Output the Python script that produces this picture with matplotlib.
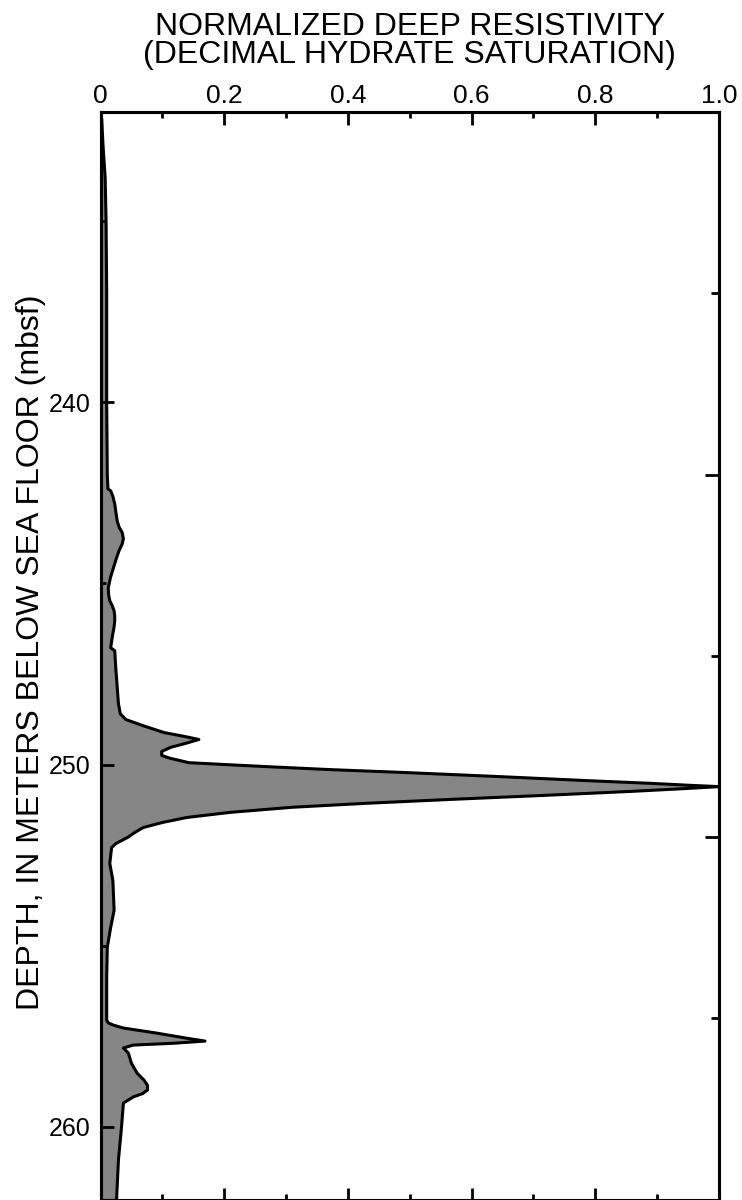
import matplotlib
matplotlib.use('Agg')
import matplotlib.pyplot as plt
from matplotlib.ticker import FixedLocator, FuncFormatter

plt.rcParams['font.family'] = ['Liberation Sans', 'DejaVu Sans']

depth = [232.0, 232.2, 232.9, 233.8, 235.0, 237.0, 240.0, 242.0, 242.40, 242.45,
         242.60, 242.81, 243.05, 243.28, 243.45, 243.60, 243.77, 243.92, 244.10, 244.35,
         244.57, 244.85, 245.12, 245.30, 245.48, 245.62, 245.76, 245.90, 246.03, 246.20,
         246.39, 246.60, 246.78, 246.86, 247.41, 248.32, 248.60, 248.76, 248.93, 249.12,
         249.23, 249.31, 249.42, 249.53, 249.64, 249.75, 249.83, 249.95, 250.00, 250.06,
         250.14, 250.22, 250.33, 250.44, 250.52, 250.58, 250.61, 250.66, 250.74, 250.85,
         250.96, 251.07, 251.18, 251.32, 251.46, 251.60, 251.74, 251.87, 252.01, 252.18,
         252.29, 252.73, 253.20, 254.02, 254.49, 255.04, 255.87, 256.78, 257.05, 257.13,
         257.19, 257.27, 257.41, 257.55, 257.63, 257.69, 257.74, 257.82, 257.96, 258.24,
         258.51, 258.70, 258.85, 258.98, 259.08, 259.17, 259.34, 260.00, 260.91, 262.00]
resistivity = [0.000, 0.002, 0.004, 0.0075, 0.009, 0.010, 0.010, 0.011, 0.012, 0.0165,
               0.020, 0.023, 0.025, 0.027, 0.030, 0.035, 0.037, 0.035, 0.030, 0.025,
               0.021, 0.016, 0.0126, 0.013, 0.015, 0.019, 0.022, 0.023, 0.023, 0.022,
               0.020, 0.018, 0.0165, 0.023, 0.025, 0.029, 0.032, 0.041, 0.069, 0.103,
               0.137, 0.159, 0.137, 0.113, 0.099, 0.099, 0.113, 0.143, 0.200, 0.270,
               0.370, 0.490, 0.640, 0.780, 0.890, 0.960, 1.000, 0.950, 0.860, 0.720,
               0.570, 0.430, 0.310, 0.210, 0.140, 0.100, 0.069, 0.056, 0.044, 0.025,
               0.018, 0.015, 0.020, 0.022, 0.0165, 0.011, 0.010, 0.010, 0.010, 0.0126,
               0.021, 0.037, 0.091, 0.139, 0.169, 0.118, 0.053, 0.037, 0.045, 0.050,
               0.059, 0.070, 0.076, 0.076, 0.068, 0.053, 0.037, 0.034, 0.029, 0.026]

x_major = [0, 0.2, 0.4, 0.6, 0.8, 1.0]
x_minor = [0.1, 0.3, 0.5, 0.7, 0.9]
left_major = [240, 250, 260]
left_minor = [235, 245, 255]
right_major = [242, 252]
right_minor = [237, 247, 257]

W, H = 742, 1200
fig = plt.figure(figsize=(W / 100, H / 100), dpi=100)
ax = fig.add_axes([100.5 / W, 0.5 / H, (719 - 100.5) / W, (1199.5 - 112) / H])

ax.fill_betweenx(depth, 0, resistivity, facecolor='#868686', edgecolor='none')
ax.plot(resistivity, depth, color='black', lw=2.2, solid_joinstyle='round')
ax.set_xlim(0, 1)
ax.set_ylim(262, 232)

for s in ax.spines.values():
    s.set_linewidth(2.2)

ax.xaxis.set_major_locator(FixedLocator(x_major))
ax.xaxis.set_minor_locator(FixedLocator(x_minor))
ax.xaxis.set_major_formatter(FuncFormatter(lambda v, p: '0' if v == 0 else f'{v:.1f}'))
ax.tick_params(axis='x', which='both', direction='in', top=True, bottom=True,
               labeltop=True, labelbottom=False, width=2, labelsize=19, pad=3)
ax.tick_params(axis='x', which='major', length=9)
ax.tick_params(axis='x', which='minor', length=4.5)

ax.yaxis.set_major_locator(FixedLocator(left_major))
ax.yaxis.set_minor_locator(FixedLocator(left_minor))
ax.tick_params(axis='y', which='both', direction='in', left=True, right=False,
               width=2, labelsize=18, pad=7)
ax.tick_params(axis='y', which='major', length=9)
ax.tick_params(axis='y', which='minor', length=3.5)

ax2 = ax.twinx()
ax2.set_ylim(262, 232)
ax2.yaxis.set_major_locator(FixedLocator(right_major))
ax2.yaxis.set_minor_locator(FixedLocator(right_minor))
ax2.tick_params(axis='y', which='both', direction='in', width=2, labelright=False)
ax2.tick_params(axis='y', which='major', length=10)
ax2.tick_params(axis='y', which='minor', length=5.5)
for s in ax2.spines.values():
    s.set_linewidth(2.2)

cx = (100.5 + 719) / 2 / W
fig.text(cx, 1 - 35 / H, 'NORMALIZED DEEP RESISTIVITY', ha='center', va='baseline', fontsize=23)
fig.text(cx, 1 - 63 / H, '(DECIMAL HYDRATE SATURATION)', ha='center', va='baseline', fontsize=23)
fig.text(31 / W, 1 - 652 / H, 'DEPTH, IN METERS BELOW SEA FLOOR (mbsf)', rotation=90,
         ha='center', va='center', fontsize=23)

fig.savefig('out.png', dpi=100)
